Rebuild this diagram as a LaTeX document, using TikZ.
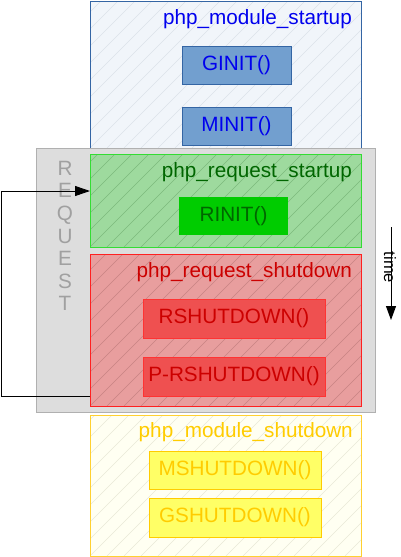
\documentclass[tikz,border=0pt]{standalone}
\usepackage{fontspec}
\setmainfont{Liberation Sans}
\usetikzlibrary{arrows.meta,calc}
\definecolor{bluefill}{HTML}{F1F5FA}
\definecolor{blueedge}{HTML}{3465A4}
\definecolor{bluehatch}{HTML}{DCE2EA}
\definecolor{bluebox}{HTML}{729FCF}
\definecolor{bluetext}{HTML}{0000EE}
\definecolor{grayfill}{HTML}{DDDDDD}
\definecolor{grayedge}{HTML}{B0B0B0}
\definecolor{graytext}{HTML}{A0A0A0}
\definecolor{greenfill}{HTML}{9EDA9E}
\definecolor{greenedge}{HTML}{33DD33}
\definecolor{greenhatch}{HTML}{7DBA7D}
\definecolor{greenbox}{HTML}{00CC00}
\definecolor{greentext}{HTML}{006600}
\definecolor{redfill}{HTML}{E89E9E}
\definecolor{rededge}{HTML}{FF2020}
\definecolor{redhatch}{HTML}{C88484}
\definecolor{redbox}{HTML}{EF5050}
\definecolor{redboxedge}{HTML}{FF3333}
\definecolor{redtext}{HTML}{CC0000}
\definecolor{yelfill}{HTML}{FFFFF2}
\definecolor{yeledge}{HTML}{FFD030}
\definecolor{yelhatch}{HTML}{E8E8D8}
\definecolor{yelbox}{HTML}{FFFF66}
\definecolor{yeltext}{HTML}{FFCC00}
\tikzset{
  x=1pt, y=-1pt,
  txt/.style={font=\fontsize{20.7}{24}\selectfont},
  region/.style={rectangle, inner sep=0pt, outer sep=0pt, anchor=north west, line width=0.8pt},
  fbox/.style={rectangle, inner sep=0pt, outer sep=0pt, line width=0.8pt, txt},
  title/.style={anchor=base east, inner sep=0pt, txt},
  arr/.style={-{Triangle[length=14pt,width=10pt]}, line width=0.9pt, black},
}
\newcommand{\hatchbox}[2]{%
  \begin{scope}
    \clip (#1.south west) rectangle (#1.north east);
    \foreach \k in {-10,...,18}
      \draw[#2, line width=0.5pt] ($(#1.south west)+(\k*17,0)$) -- ++(220,-220);
  \end{scope}}
\begin{document}
\begin{tikzpicture}
\useasboundingbox (0,0) rectangle (400,557);
% module startup
\node[region, draw=blueedge, fill=bluefill, minimum width=271pt, minimum height=147pt] (ms) at (90,1) {};
\hatchbox{ms}{bluehatch}
\draw[blueedge, line width=0.8pt] (ms.south west) rectangle (ms.north east);
\node[title, text=bluetext] (mst) at (352,24) {php\_module\_startup};
\node[fbox, draw=blueedge, fill=bluebox, text=bluetext, minimum width=109pt, minimum height=38pt] (ginit) at (236.5,65) {GINIT()};
\node[fbox, draw=blueedge, fill=bluebox, text=bluetext, minimum width=109pt, minimum height=38pt] (minit) at (236.5,126) {MINIT()};
% request
\node[region, draw=grayedge, fill=grayfill, minimum width=339pt, minimum height=264pt] (req) at (36,148) {};
\node[txt, text=graytext, align=center, font=\fontsize{20.7}{22.6}\selectfont, inner sep=0pt] (reqt) at (65,236) {R\\E\\Q\\U\\E\\S\\T};
% request startup
\node[region, draw=greenedge, fill=greenfill, minimum width=271pt, minimum height=93pt] (rs) at (90,154) {};
\hatchbox{rs}{greenhatch}
\draw[greenedge, line width=0.8pt] (rs.south west) rectangle (rs.north east);
\node[title, text=greentext] (rst) at (352,177) {php\_request\_startup};
\node[fbox, fill=greenbox, text=greentext, minimum width=109pt, minimum height=38pt] (rinit) at (233.5,216) {RINIT()};
% request shutdown
\node[region, draw=rededge, fill=redfill, minimum width=271pt, minimum height=152pt] (rsd) at (90,254) {};
\hatchbox{rsd}{redhatch}
\draw[rededge, line width=0.8pt] (rsd.south west) rectangle (rsd.north east);
\node[title, text=redtext] (rsdt) at (352,277) {php\_request\_shutdown};
\node[fbox, draw=redboxedge, fill=redbox, text=redtext, minimum width=182pt, minimum height=39pt] (rshut) at (234,318.5) {RSHUTDOWN()};
\node[fbox, draw=redboxedge, fill=redbox, text=redtext, minimum width=182pt, minimum height=39pt] (prshut) at (234,376.5) {P-RSHUTDOWN()};
% module shutdown
\node[region, draw=yeledge, fill=yelfill, minimum width=271pt, minimum height=141pt] (msd) at (90,415) {};
\hatchbox{msd}{yelhatch}
\draw[yeledge, line width=0.8pt] (msd.south west) rectangle (msd.north east);
\node[title, text=yeltext] (msdt) at (353,437) {php\_module\_shutdown};
\node[fbox, draw=yeltext, fill=yelbox, text=yeltext, minimum width=172pt, minimum height=38pt] (mshut) at (235,470) {MSHUTDOWN()};
\node[fbox, draw=yeltext, fill=yelbox, text=yeltext, minimum width=172pt, minimum height=39pt] (gshut) at (235,517.5) {GSHUTDOWN()};
% loop arrow
\coordinate (loopS) at (90,396);
\coordinate (loopL) at (1,396);
\coordinate (loopE) at (90,191);
\draw[arr, -{Triangle[length=15pt,width=10pt]}] (loopS) -- (loopL) |- (loopE);
% time arrow
\node[rotate=-90, inner sep=0pt, font=\fontsize{16.5}{18}\selectfont] (time) at (390,267.5) {time};
\coordinate (tA) at (391,227);
\coordinate (tB) at (391,320);
\draw[arr] (tA) -- (tB);
\end{tikzpicture}
\end{document}
